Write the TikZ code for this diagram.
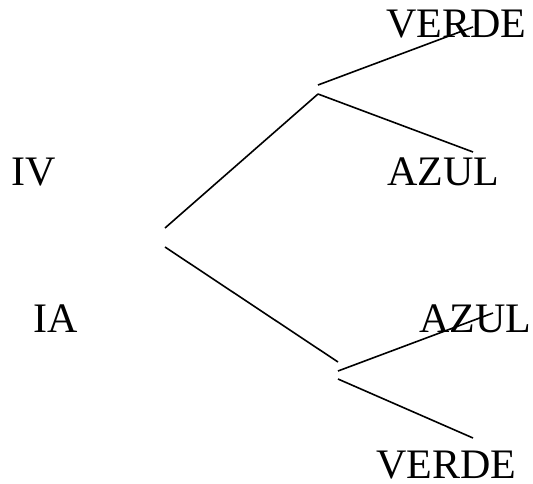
\documentclass[tikz,border=0pt]{standalone}
\usepackage{fontspec}
\setmainfont{Liberation Serif}
\begin{document}
\begin{tikzpicture}[x=1pt,y=-1pt,
  lbl/.style={anchor=base west,inner sep=0pt,text depth=0pt,font=\fontsize{42}{42}\selectfont},
  edge/.style={line width=1.6pt}]
\useasboundingbox (0,0) rectangle (533,483);
% labels
\node[lbl] (verdeTop) at (386,37) {VERDE};
\node[lbl] (azulTop) at (387,185) {AZUL};
\node[lbl] (iv) at (11,185) {IV};
\node[lbl] (ia) at (33,332) {IA};
\node[lbl] (azulBot) at (419,332) {AZUL};
\node[lbl] (verdeBot) at (376,478) {VERDE};
% endpoints
\coordinate (r1) at (165,228);
\coordinate (r2) at (165,247);
\coordinate (a1) at (318,85);
\coordinate (a2) at (318,94);
\coordinate (av) at (473,27);
\coordinate (aa) at (473,152);
\coordinate (b0) at (338,362);
\coordinate (b1) at (338,371);
\coordinate (b2) at (338,379);
\coordinate (ba) at (493,313);
\coordinate (bv) at (473,438);
% connectors
\draw[edge] (r1) -- (a2);
\draw[edge] (a1) -- (av);
\draw[edge] (a2) -- (aa);
\draw[edge] (r2) -- (b0);
\draw[edge] (b1) -- (ba);
\draw[edge] (b2) -- (bv);
\end{tikzpicture}
\end{document}
